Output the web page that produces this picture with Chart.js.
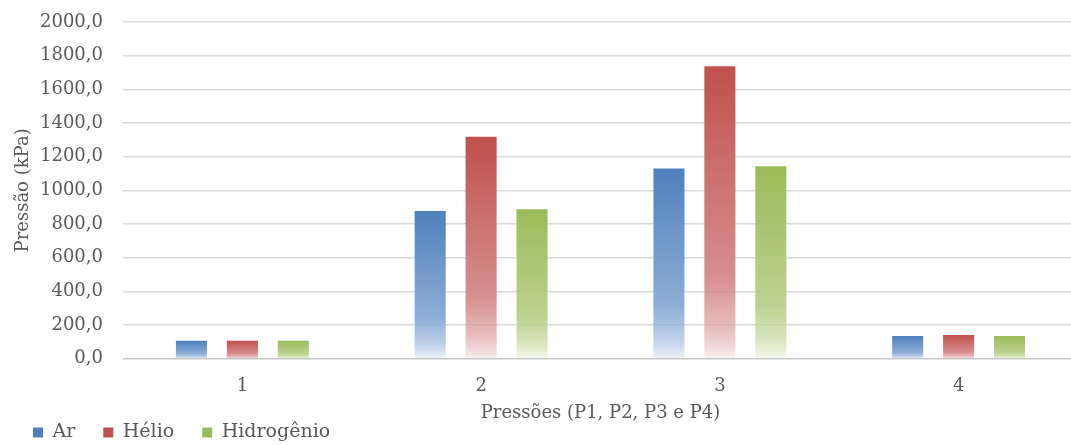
<!DOCTYPE html>
<html>
<head>
<meta charset="utf-8">
<script src="https://cdn.jsdelivr.net/npm/chart.js@4/dist/chart.umd.min.js"></script>
<style>
  html, body { margin: 0; padding: 0; background: #fff; overflow: hidden; }
  #wrap { width: 1080px; height: 452px; position: relative; }
</style>
</head>
<body>
<div id="wrap"><canvas id="myChartPressao"></canvas></div>
<script>
const categorias = ['1', '2', '3', '4'];
const seriesNomes = ['Ar', 'Hélio', 'Hidrogênio'];
const ar = [107, 877, 1130, 135];
const helio = [107, 1319, 1737, 141];
const hidrogenio = [107, 888, 1144, 135];
const yMin = 0;
const yMax = 2000;
const yPasso = 200;

const cores = ['#4f81bd', '#c0504d', '#9bbb59'];
const claras = ['#8eadd6', '#d68f8d', '#bcd28f'];
const fundos = ['#f3f6fb', '#fbf1f1', '#f6f9ef'];
const fonte = 'DejaVu Serif';
const cinza = '#595959';

// degradê por barra, do topo da barra até a base
function gradiente(i) {
  return function(context) {
    const chart = context.chart;
    if (!chart.chartArea || context.raw == null) return cores[i];
    const y = chart.scales.y;
    const topo = y.getPixelForValue(context.raw);
    const base = y.getPixelForValue(0);
    if (!(base > topo)) return cores[i];
    const g = chart.ctx.createLinearGradient(0, topo, 0, base);
    g.addColorStop(0, cores[i]);
    g.addColorStop(0.72, claras[i]);
    g.addColorStop(0.86, claras[i] + 'aa');
    g.addColorStop(1, fundos[i]);
    return g;
  };
}

const ctx = document.getElementById('myChartPressao').getContext('2d');
const chartBarInstance = new Chart(ctx, {
  type: 'bar',
  data: {
    labels: categorias,
    datasets: [ar, helio, hidrogenio].map((d, i) => ({
      label: seriesNomes[i],
      data: d,
      backgroundColor: gradiente(i),
      borderWidth: 0,
      categoryPercentage: 0.64,
      barPercentage: 0.61
    }))
  },
  options: {
    responsive: true,
    maintainAspectRatio: false,
    animation: false,
    layout: { padding: { left: 5, right: 2, top: 22, bottom: 0 } },
    plugins: {
      tooltip: { enabled: false },
      legend: {
        position: 'bottom',
        align: 'start',
        labels: {
          boxWidth: 10,
          boxHeight: 10,
          padding: 28,
          color: cinza,
          font: { family: fonte, size: 19 },
          generateLabels: (chart) => chart.data.datasets.map((ds, i) => ({
            text: ds.label,
            fillStyle: cores[i],
            strokeStyle: cores[i],
            lineWidth: 0,
            fontColor: cinza,
            datasetIndex: i,
            hidden: false
          }))
        }
      }
    },
    scales: {
      x: {
        grid: { display: false },
        border: { display: false },
        ticks: { color: cinza, font: { family: fonte, size: 18 }, padding: 9 },
        title: {
          display: true,
          text: 'Pressões (P1, P2, P3 e P4)',
          color: cinza,
          font: { family: fonte, size: 18 },
          padding: { top: -4, bottom: -29 }
        }
      },
      y: {
        min: yMin,
        max: yMax,
        border: { display: false },
        afterFit: (scale) => {
          scale.width = 118;
          scale.paddingTop = 0;
          scale.paddingBottom = 0;
        },
        grid: {
          color: (c) => c.tick && c.tick.value === 0 ? '#c8c8c8' : '#d9d9d9',
          lineWidth: 1.5,
          drawTicks: false
        },
        ticks: {
          stepSize: yPasso,
          color: cinza,
          padding: 20,
          font: { family: fonte, size: 18 },
          callback: (v) => v.toFixed(1).replace('.', ',')
        },
        title: {
          display: true,
          text: 'Pressão (kPa)',
          color: cinza,
          font: { family: fonte, size: 18 },
          padding: { top: 8, bottom: 0 }
        }
      }
    }
  }
});
</script>
</body>
</html>
